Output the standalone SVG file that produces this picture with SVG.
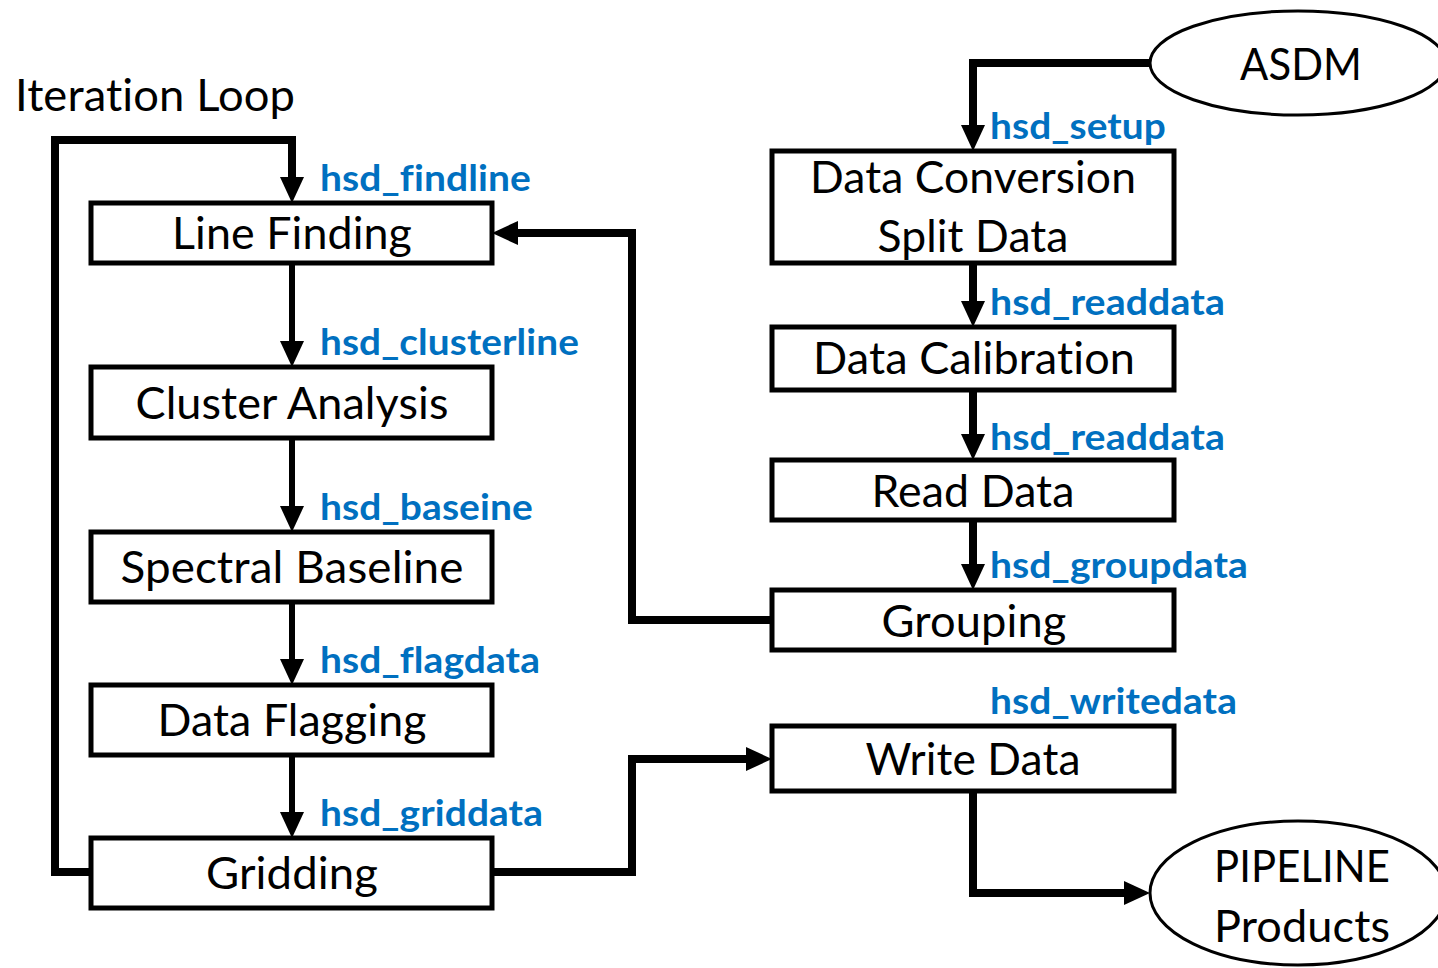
<svg xmlns="http://www.w3.org/2000/svg" width="1438" height="968" viewBox="0 0 1438 968">
  <style>
    text { font-variant-ligatures: none; font-feature-settings: "liga" 0, "dlig" 0; letter-spacing: 0.1px; }
    .box { fill: #ffffff; stroke: #000000; stroke-width: 5; }
    .oval { fill: #ffffff; stroke: #000000; stroke-width: 3; }
    .name { font-family: Lato, "Open Sans", "Liberation Sans", sans-serif; font-size: 44px; fill: #000000; text-anchor: middle; }
    .title { font-family: Lato, "Open Sans", "Liberation Sans", sans-serif; font-size: 44px; fill: #000000; }
    .task { font-family: Lato, "Open Sans", "Liberation Sans", sans-serif; font-size: 36px; font-weight: bold; fill: #0070C0; }
    .flow { fill: none; stroke: #000000; stroke-width: 8; stroke-linejoin: miter; marker-end: url(#head); }
    .flow.thin { stroke-width: 6; }
  </style>
  <defs>
    <marker id="head" markerUnits="userSpaceOnUse" markerWidth="26" markerHeight="24" refX="6" refY="12" orient="auto">
      <path d="M0,0 L26,12 L0,24 z" fill="#000000"/>
    </marker>
  </defs>
  <rect x="0" y="0" width="1438" height="968" fill="#ffffff"/>

  <text class="title" x="15" y="111" textLength="280" lengthAdjust="spacingAndGlyphs">Iteration Loop</text>

  <!-- connectors -->
  <g id="connectors">
    <path class="flow" d="M91,872 H55 V140 H292 V183"/>
    <path class="flow thin" d="M292,263 V347"/>
    <path class="flow thin" d="M292,438 V512"/>
    <path class="flow thin" d="M292,602 V665"/>
    <path class="flow thin" d="M292,755 V818"/>
    <path class="flow" d="M1152,63 H973 V131"/>
    <path class="flow" d="M973,263 V307"/>
    <path class="flow" d="M973,390 V440"/>
    <path class="flow" d="M973,520 V570"/>
    <path class="flow" d="M772,620 H632 V233 H512"/>
    <path class="flow" d="M492,872 H632 V759 H752"/>
    <path class="flow" d="M973,791 V893 H1130"/>
  </g>

  <!-- connector labels -->
  <g id="labels">
    <text class="task" x="320" y="191" textLength="211" lengthAdjust="spacingAndGlyphs">hsd_findline</text>
    <text class="task" x="320" y="355" textLength="259" lengthAdjust="spacingAndGlyphs">hsd_clusterline</text>
    <text class="task" x="320" y="520" textLength="213" lengthAdjust="spacingAndGlyphs">hsd_baseine</text>
    <text class="task" x="320" y="673" textLength="220" lengthAdjust="spacingAndGlyphs">hsd_flagdata</text>
    <text class="task" x="320" y="826" textLength="223" lengthAdjust="spacingAndGlyphs">hsd_griddata</text>
    <text class="task" x="990" y="139" textLength="176" lengthAdjust="spacingAndGlyphs">hsd_setup</text>
    <text class="task" x="990" y="315" textLength="235" lengthAdjust="spacingAndGlyphs">hsd_readdata</text>
    <text class="task" x="990" y="450" textLength="235" lengthAdjust="spacingAndGlyphs">hsd_readdata</text>
    <text class="task" x="990" y="578" textLength="258" lengthAdjust="spacingAndGlyphs">hsd_groupdata</text>
    <text class="task" x="990" y="714" textLength="247" lengthAdjust="spacingAndGlyphs">hsd_writedata</text>
  </g>

  <!-- iteration loop steps -->
  <g id="line-finding">
    <rect class="box" x="91" y="203" width="401" height="60"/>
    <text class="name" x="292" y="249" textLength="240" lengthAdjust="spacingAndGlyphs">Line Finding</text>
  </g>
  <g id="cluster-analysis">
    <rect class="box" x="91" y="367" width="401" height="71"/>
    <text class="name" x="292" y="419" textLength="313" lengthAdjust="spacingAndGlyphs">Cluster Analysis</text>
  </g>
  <g id="spectral-baseline">
    <rect class="box" x="91" y="532" width="401" height="70"/>
    <text class="name" x="292" y="583" textLength="343" lengthAdjust="spacingAndGlyphs">Spectral Baseline</text>
  </g>
  <g id="data-flagging">
    <rect class="box" x="91" y="685" width="401" height="70"/>
    <text class="name" x="292" y="736" textLength="269" lengthAdjust="spacingAndGlyphs">Data Flagging</text>
  </g>
  <g id="gridding">
    <rect class="box" x="91" y="838" width="401" height="70"/>
    <text class="name" x="292" y="889" textLength="172" lengthAdjust="spacingAndGlyphs">Gridding</text>
  </g>

  <!-- preparation steps -->
  <g id="data-conversion">
    <rect class="box" x="772" y="151" width="402" height="112"/>
    <text class="name" x="973" y="193" textLength="326" lengthAdjust="spacingAndGlyphs">Data Conversion</text>
    <text class="name" x="973" y="252" textLength="191" lengthAdjust="spacingAndGlyphs">Split Data</text>
  </g>
  <g id="data-calibration">
    <rect class="box" x="772" y="327" width="402" height="63"/>
    <text class="name" x="974" y="374" textLength="322" lengthAdjust="spacingAndGlyphs">Data Calibration</text>
  </g>
  <g id="read-data">
    <rect class="box" x="772" y="460" width="402" height="60"/>
    <text class="name" x="973" y="507" textLength="203" lengthAdjust="spacingAndGlyphs">Read Data</text>
  </g>
  <g id="grouping">
    <rect class="box" x="772" y="590" width="402" height="60"/>
    <text class="name" x="974" y="637" textLength="185" lengthAdjust="spacingAndGlyphs">Grouping</text>
  </g>
  <g id="write-data">
    <rect class="box" x="772" y="726" width="402" height="65"/>
    <text class="name" x="973" y="775" textLength="215" lengthAdjust="spacingAndGlyphs">Write Data</text>
  </g>

  <!-- input and output -->
  <g id="asdm">
    <ellipse class="oval" cx="1298" cy="63" rx="148" ry="52"/>
    <text class="name" x="1301" y="80" textLength="122" lengthAdjust="spacingAndGlyphs">ASDM</text>
  </g>
  <g id="pipeline-products">
    <ellipse class="oval" cx="1298" cy="893" rx="148" ry="72"/>
    <text class="name" x="1302" y="882" textLength="176" lengthAdjust="spacingAndGlyphs">PIPELINE</text>
    <text class="name" x="1302" y="942" textLength="176" lengthAdjust="spacingAndGlyphs">Products</text>
  </g>
</svg>
